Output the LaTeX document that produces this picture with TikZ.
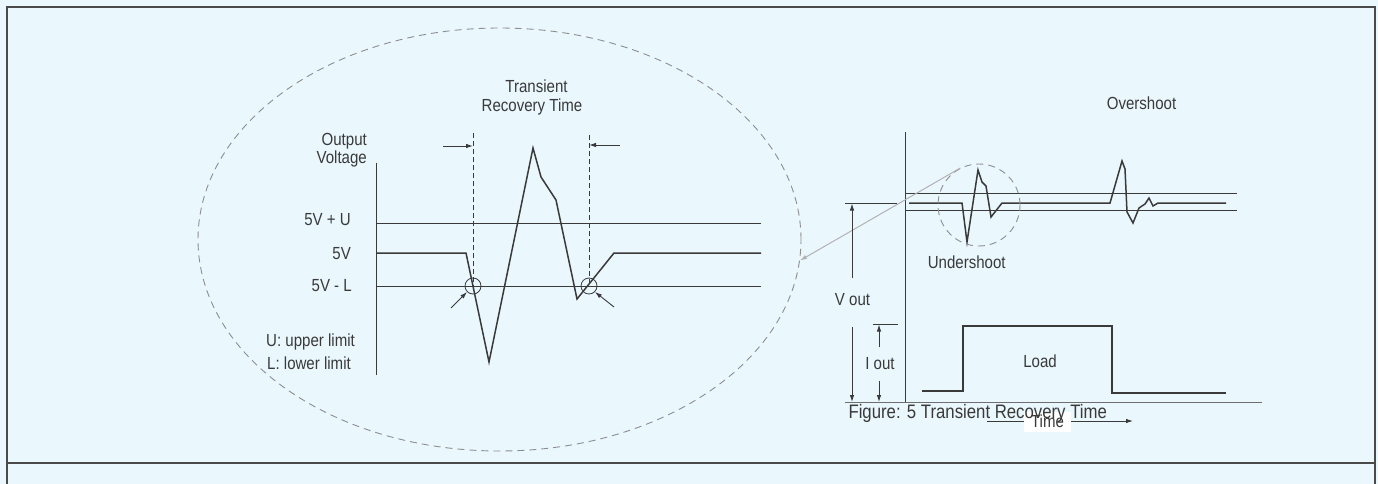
\documentclass[tikz,border=0pt]{standalone}
\usepackage{fontspec}
\setmainfont{Liberation Sans}[FakeStretch=0.86]
\usepackage{xcolor}
\usetikzlibrary{arrows.meta, shapes.geometric}
\definecolor{bgblue}{HTML}{EAF7FD}
\definecolor{inkgrey}{HTML}{3A3A3A}
\definecolor{framegrey}{HTML}{4A4A4A}
\definecolor{ringgrey}{HTML}{8E8E8E}
\definecolor{zoomgrey}{HTML}{B2B2B2}
\definecolor{axisgrey}{HTML}{6E6E6E}

\begin{document}
\begin{tikzpicture}[
x=1pt, y=-1pt,
every node/.style={font=\fontsize{17.5}{19}\selectfont, text=inkgrey, inner sep=0pt},
lbl/.style={anchor=base east},
lblc/.style={anchor=base},
frameline/.style={draw=framegrey, line width=1.6pt},
levelline/.style={draw=inkgrey, line width=0.9pt},
waveline/.style={draw=inkgrey, line width=1.5pt, line join=miter},
guideline/.style={draw=inkgrey, line width=0.9pt, dash pattern=on 5pt off 3pt},
ringnode/.style={draw=ringgrey, line width=0.9pt, dash pattern=on 7pt off 5pt},
markring/.style={circle, draw=inkgrey, line width=0.8pt, minimum size=16pt},
dimarrow/.style={draw=inkgrey, line width=0.9pt, -{Latex[length=7pt, width=4.5pt]}},
zoomarrow/.style={draw=zoomgrey, line width=1pt, -{Latex[length=7pt, width=4.5pt]}}
]

\fill[bgblue] (0,0) rectangle (1378,484);
\useasboundingbox (0,0) rectangle (1378,484);
\draw[frameline] (7,484) -- (7,7) -- (1375,7) -- (1375,484);
\draw[frameline] (7,463) -- (1375,463);

\node[ringnode, ellipse, minimum width=603pt, minimum height=423pt] (zoomellipse) at (499.5,239.5) {};

\node[lbl] (outlbl) at (367,146) {Output};
\node[lbl] (voltlbl) at (367,163) {Voltage};
\node[lbl] (upperlbl) at (351,225.5) {5V + U};
\node[lbl] (nomlbl) at (351,259.5) {5V};
\node[lbl] (lowerlbl) at (352,291.5) {5V - L};
\node[anchor=base west] (ulimit) at (266,346.5) {U: upper limit};
\node[anchor=base west] (llimit) at (267,369.5) {L: lower limit};
\node[lblc] (translbl) at (536.5,92.7) {Transient};
\node[lblc] (recovlbl) at (532,111.7) {Recovery Time};

\draw[levelline] (376,163) -- (376,375);
\draw[levelline] (376,223) -- (761,223);
\draw[levelline] (376,286) -- (761,286);
\draw[waveline] (376,253) -- (466,253) -- (489,362) -- (533,148) -- (541,177)
  -- (556,200) -- (577,299) -- (614,253) -- (761,253);

\coordinate (startcross) at (473,286);
\coordinate (endcross) at (589,286);
\draw[guideline] (473,133) -- (startcross);
\draw[guideline] (589,135) -- (endcross);
\node[markring] (startring) at (startcross) {};
\node[markring] (endring) at (endcross) {};
\coordinate (startleft) at (443,146);
\coordinate (startmark) at (473,146);
\coordinate (endright) at (620,145);
\coordinate (endmark) at (589,145);
\draw[dimarrow] (startleft) -- (startmark);
\draw[dimarrow] (endright) -- (endmark);
\coordinate (startpoint) at (451,308);
\coordinate (endpoint) at (614,307);
\draw[dimarrow] (startpoint) -- (startring.225);
\draw[dimarrow] (endpoint) -- (endring.-45);

\draw[levelline] (905,132) -- (905,402);
\draw[draw=axisgrey, line width=0.9pt] (845,402.5) -- (1262,402.5);
\draw[levelline] (905,193) -- (1237,193);
\draw[levelline] (905,210) -- (1237,210);
\draw[waveline] (909,203) -- (962,203) -- (967,242) -- (978,170) -- (982,182)
  -- (986,186) -- (991,217) -- (1002,203) -- (1110,203) -- (1122,161)
  -- (1125,169) -- (1127,212) -- (1133,223) -- (1139,208) -- (1145,204)
  -- (1149,198) -- (1153,206) -- (1158,203) -- (1226,203);
\draw[waveline] (922,391) -- (963,391) -- (963,326) -- (1112,326)
  -- (1112,393) -- (1226,393);

\node[ringnode, circle, minimum size=82pt] (undercirc) at (979,205) {};
\draw[zoomarrow] (undercirc.117) -- (zoomellipse.-4);

\node[lblc] (underlbl) at (966.7,268.3) {Undershoot};
\node[lblc] (overlbl) at (1141.5,110) {Overshoot};
\node[lblc] (loadlbl) at (1040,367.3) {Load};

\draw[levelline] (845,203) -- (897,203);
\node[lblc] (voutlbl) at (852.5,305) {V out};
\draw[dimarrow] (852,278) -- (852,203.5);
\draw[dimarrow] (852,327) -- (852,402);
\draw[levelline] (873,324) -- (898,324);
\node[lblc] (ioutlbl) at (880,369.3) {I out};
\draw[dimarrow] (879,347) -- (879,324.5);
\draw[dimarrow] (879,381) -- (879,402);

\coordinate (timestart) at (987,421);
\coordinate (timeend) at (1133,421);
\draw[draw=inkgrey, line width=0.9pt, -{Latex[length=7pt, width=4.5pt]}] (timestart) -- (timeend);
\node[fill=white, minimum width=47pt, minimum height=20pt] (timelbl) at (1047.5,421.5) {Time};
\node[anchor=base west, font=\fontsize{19.5}{21}\selectfont] (caption) at (848.3,418.3) {Figure: 5 Transient Recovery Time};

\end{tikzpicture}
\end{document}
